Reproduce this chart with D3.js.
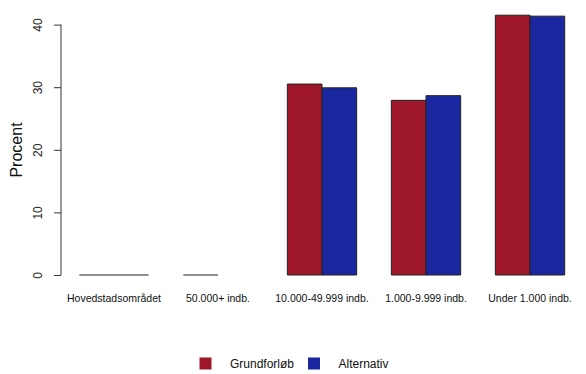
<!DOCTYPE html>
<html><head><meta charset="utf-8">
<script src="https://cdn.jsdelivr.net/npm/d3@7"></script>
<style>body{margin:0;background:#fff}svg{display:block}text{font-family:"Liberation Sans",Arial,sans-serif}</style>
</head><body><svg id="c" width="586" height="374"></svg>
<script>
const categories = ["Hovedstadsområdet","50.000+ indb.","10.000-49.999 indb.","1.000-9.999 indb.","Under 1.000 indb."];
const seriesNames = ["Grundforløb","Alternativ"];
const grundforlob = [0, 0, 30.5, 27.9, 41.5];
const alternativ = [0, null, 29.9, 28.65, 41.35];
const yTicks = [0,10,20,30,40];
const colors = ["#9e1829","#1a27a0"];

const svg = d3.select("#c");
const y = d3.scaleLinear().domain([0,40]).range([275,24.6]);
const x = d3.scaleBand().domain(categories).range([79.3,564.7]).paddingInner(1/3).paddingOuter(0);
const xs = d3.scaleBand().domain(seriesNames).range([0,x.bandwidth()]);

const data = [];
categories.forEach((c,i)=>{
  [grundforlob,alternativ].forEach((arr,j)=>{
    if(arr[i]!==null) data.push({c, s:seriesNames[j], v:arr[i], col:colors[j]});
  });
});
svg.append("g").selectAll("path").data(data).join("path")
  .attr("d",d=>{
    const x0=x(d.c)+xs(d.s), x1=x0+xs.bandwidth(), y0=y(0), y1=y(d.v);
    return d.v===0 ? `M${x0},${y0}H${x1}` : `M${x0},${y0}V${y1}H${x1}V${y0}Z`;
  })
  .attr("fill",d=>d.v===0?"none":d.col).attr("stroke","#222").attr("stroke-width",1);

// y axis
const yAxis = d3.axisLeft(y).tickValues(yTicks).tickSize(7).tickPadding(4).tickSizeOuter(0);
const gy = svg.append("g").attr("transform","translate(61,0)").call(yAxis);
gy.select(".domain").remove();
gy.append("line").attr("x1",0).attr("x2",0).attr("y1",y(0)).attr("y2",y(40)).attr("stroke","#333");
gy.selectAll(".tick line").attr("stroke","#333");
gy.selectAll(".tick text").attr("font-size",12).attr("fill","#222")
  .attr("text-anchor","middle").attr("x",0).attr("y",0)
  .attr("transform","translate(-23,0) rotate(-90)")
  .attr("dy","0.35em");

svg.append("text").attr("transform","translate(22,150) rotate(-90)")
  .attr("text-anchor","middle").attr("font-size",16).attr("fill","#111").text("Procent");

// x labels
svg.append("g").selectAll("text").data(categories).join("text")
  .attr("x",d=>x(d)+x.bandwidth()/2).attr("y",302)
  .attr("text-anchor","middle").attr("font-size",10.5).attr("fill","#111").text(d=>d);

// legend
const lg = svg.append("g");
const lx = [199.5, 308];
seriesNames.forEach((s,i)=>{
  lg.append("rect").attr("x",lx[i]).attr("y",357.5).attr("width",12).attr("height",12).attr("fill",colors[i]);
  lg.append("text").attr("x",lx[i]+30.5).attr("y",363.5).attr("dy","0.35em").attr("font-size",12).attr("fill","#111").text(s);
});
</script></body></html>
